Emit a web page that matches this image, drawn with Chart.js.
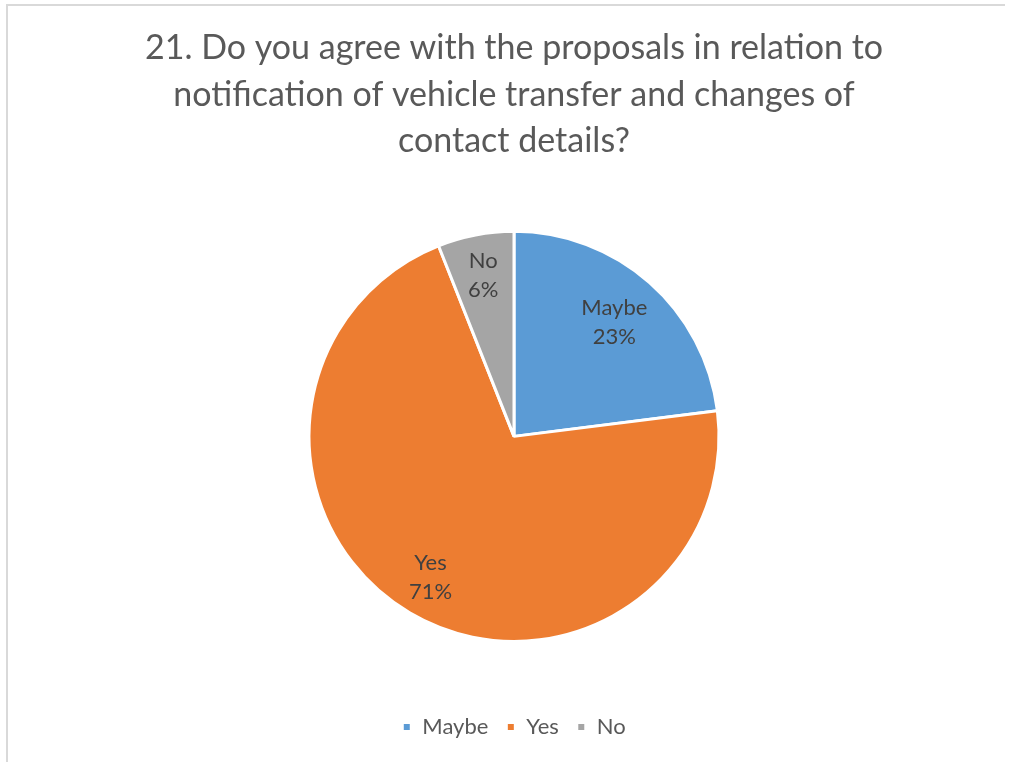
<!DOCTYPE html>
<html>
<head>
<meta charset="utf-8">
<script src="https://cdn.jsdelivr.net/npm/chart.js@4.4.1/dist/chart.umd.min.js"></script>
<style>
  html, body { margin: 0; padding: 0; background: #fff; }
  #frame {
    position: absolute; left: 6px; top: 4px; width: 997px; height: 800px;
    border-top: 2px solid #d9d9d9; border-left: 2px solid #d9d9d9;
  }
  #wrap { position: absolute; left: 0; top: 0; width: 1009px; height: 762px; }
</style>
</head>
<body>
<div id="frame"></div>
<div id="wrap"><canvas id="pie"></canvas></div>
<script>
// survey answers, in percent
const categories = ["Maybe", "Yes", "No"];
const shares = [23, 71, 6];
const sliceColors = ["#5B9BD5", "#ED7D31", "#A5A5A5"];
const titleLines = [
  "21. Do you agree with the proposals in relation to",
  "notification of vehicle transfer and changes of",
  "contact details?"
];

// writes "name / pct%" inside each slice
const sliceLabels = {
  id: "sliceLabels",
  afterDatasetsDraw(chart, args, opts) {
    const ctx = chart.ctx;
    const meta = chart.getDatasetMeta(0);
    ctx.save();
    ctx.font = "22px Lato";
    ctx.fillStyle = "#404040";
    ctx.textAlign = "center";
    ctx.textBaseline = "middle";
    meta.data.forEach((arc, i) => {
      const mid = (arc.startAngle + arc.endAngle) / 2;
      const r = arc.outerRadius * opts.dist[i];
      const x = arc.x + Math.cos(mid) * r;
      const y = arc.y + Math.sin(mid) * r;
      ctx.fillText(categories[i], x, y - 14.5);
      ctx.fillText(shares[i] + "%", x, y + 14.5);
    });
    ctx.restore();
  }
};

new Chart(document.getElementById("pie"), {
  type: "pie",
  data: {
    labels: categories,
    datasets: [{
      data: shares,
      backgroundColor: sliceColors,
      borderColor: "#ffffff",
      borderWidth: 3,
      radius: 205
    }]
  },
  options: {
    responsive: true,
    maintainAspectRatio: false,
    animation: false,
    layout: { padding: { left: 19, right: 0, top: 0, bottom: 14 } },
    plugins: {
      title: {
        display: true,
        text: titleLines,
        color: "#595959",
        font: { family: "Lato", size: 34, weight: "normal", lineHeight: 1.37 },
        padding: { top: 25, bottom: 10 }
      },
      legend: {
        position: "bottom",
        labels: {
          color: "#595959",
          font: { family: "Lato", size: 22 },
          boxWidth: 9,
          boxHeight: 9,
          padding: 18
        }
      },
      tooltip: { enabled: false },
      sliceLabels: { dist: [0.74, 0.8, 0.8] }
    }
  },
  plugins: [sliceLabels]
});
</script>
</body>
</html>
